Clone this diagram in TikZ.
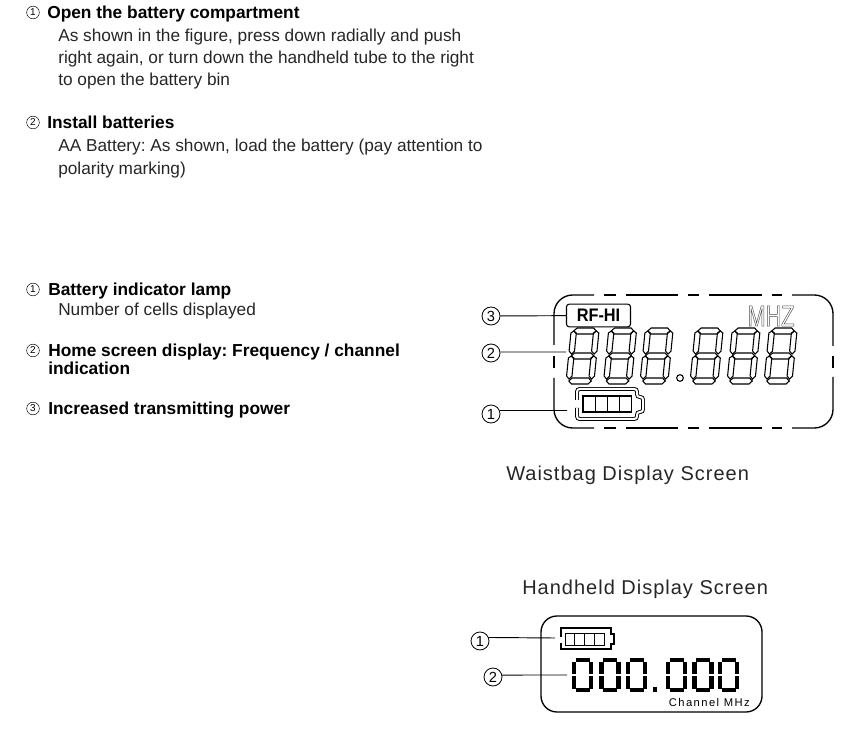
\documentclass[tikz,border=0pt]{standalone}
\usepackage{fontspec}
\setmainfont{Liberation Sans}
\frenchspacing
\tikzset{
  headtext/.style={anchor=base west, inner sep=0pt, font=\fontsize{13}{15}\selectfont\bfseries},
  bodytext/.style={anchor=base west, inner sep=0pt, font=\fontsize{12.95}{15}\selectfont, text=black!85},
  captiontext/.style={anchor=base west, inner sep=0pt, font=\fontsize{15}{17}\selectfont\addfontfeature{LetterSpace=5}, text=black!85},
  smallnum/.style={circle, draw, line width=0.35pt, inner sep=0pt, minimum size=9.5pt, font=\fontsize{7.5}{8}\selectfont},
  bignum/.style={circle, draw, line width=0.6pt, inner sep=0pt, minimum size=13.5pt, font=\fontsize{11}{12}\selectfont},
  leader/.style={line width=0.7pt},
  lcdline/.style={line width=1pt},
  segline/.style={line width=0.8pt},
  pics/lcdeight/.style={code={
    % outlined seven segments, origin at the lower left
    \begin{scope}[xslant=0.1]
      \foreach \ypos in {-3,-28,-53}
        \draw[segline] (2.5,\ypos) -- (5.5,\ypos-3) -- (22,\ypos-3) -- (25,\ypos) -- (22,\ypos+3) -- (5.5,\ypos+3) -- cycle;
      \foreach \xpos in {2.5,25}
        \foreach \ypos in {-3,-28}
          \draw[segline] (\xpos,\ypos-2) -- (\xpos+2.7,\ypos-5) -- (\xpos+2.7,\ypos-23) -- (\xpos,\ypos-25) -- (\xpos-2.7,\ypos-23) -- (\xpos-2.7,\ypos-5) -- cycle;
    \end{scope}
  }},
  pics/lcdzero/.style={code={
    % solid zero in six strokes, origin at the lower left
    \draw[line width=3.2pt] (3.5,-32) -- (17.5,-32);
    \draw[line width=3.2pt] (3.5,-2) -- (17.5,-2);
    \foreach \xpos in {2,19} {
      \draw[line width=3.2pt] (\xpos,-3.5) -- (\xpos,-16);
      \draw[line width=3.2pt] (\xpos,-18) -- (\xpos,-30.5);
    }
  }},
}
\begin{document}
\begin{tikzpicture}[x=0.75pt, y=-0.75pt]
  \useasboundingbox (0,0) rectangle (857,741);
  % first list
  \node[smallnum] (opennum) at (33,12.5) {1};
  \node[headtext] (openhead) at (47,19) {Open the battery compartment};
  \node[bodytext] (openone) at (58,42) {As shown in the figure, press down radially and push};
  \node[bodytext] (opentwo) at (58,64) {right again, or turn down the handheld tube to the right};
  \node[bodytext] (openthree) at (58,86) {to open the battery bin};
  \node[smallnum] (installnum) at (33,122.5) {2};
  \node[headtext] (installhead) at (47,129) {Install batteries};
  \node[bodytext] (installone) at (58,152) {AA Battery: As shown, load the battery (pay attention to};
  \node[bodytext] (installtwo) at (58,175) {polarity marking)};
  % second list
  \node[smallnum] (lampnum) at (33,289.5) {1};
  \node[headtext] (lamphead) at (48,296) {Battery indicator lamp};
  \node[bodytext] (lampone) at (58,316) {Number of cells displayed};
  \node[smallnum] (homenum) at (33,350.5) {2};
  \node[headtext] (homehead) at (48,357) {Home screen display: Frequency / channel};
  \node[headtext] (hometwo) at (48,374.5) {indication};
  \node[smallnum] (powernum) at (33,408.5) {3};
  \node[headtext] (powerhead) at (48,415) {Increased transmitting power};
  % waistbag frame, broken lines
  \draw[lcdline, rounded corners=14pt] (554,345) -- (554,295) -- (594,295);
  \draw[lcdline, rounded corners=14pt] (833,346) -- (833,295) -- (792,295);
  \draw[lcdline, rounded corners=14pt] (554,378) -- (554,428) -- (594,428);
  \draw[lcdline, rounded corners=14pt] (833,377) -- (833,428) -- (792,428);
  \foreach \xa/\xb in {604/616,626/678,688/699,709/762,772/782} {
    \draw[lcdline] (\xa,295) -- (\xb,295);
    \draw[lcdline] (\xa,428) -- (\xb,428);
  }
  \draw[lcdline] (554,356) -- (554,368);
  \draw[lcdline] (833,356) -- (833,368);
  % waistbag contents
  \node[draw, line width=0.8pt, rounded corners=2pt, minimum width=48pt, minimum height=17pt, inner sep=0pt] (rfhi) at (598.5,315.5) {\fontsize{13.6}{15}\selectfont\bfseries\addfontfeature{FakeStretch=0.9}RF-HI};
  \node[inner sep=0pt, text=black!70] (mhz) at (771,316) {\fontsize{22}{24}\selectfont\addfontfeature{FakeStretch=0.74}\special{pdf:code 1 Tr 0.35 w}MHZ\special{pdf:code 0 Tr}};
  \foreach \xpos in {566,603.5,640,690,727,764}
    \pic at (\xpos,384) {lcdeight};
  \node[circle, draw, segline, minimum size=5pt, inner sep=0pt] (wdot) at (680,378) {};
  \draw[line width=0.7pt, double, double distance=1.5pt, rounded corners=2pt] (577,400) -- (577,389) -- (637,389) -- (637,397) -- (643,397) -- (643,412) -- (637,412) -- (637,419) -- (577,419) -- (577,408);
  \foreach \i in {0,1,2,3}
    \draw[line width=0.9pt] ({583+12.2*\i},396) rectangle ++(12.2,16);
  % waistbag labels
  \coordinate (wendtwo) at (566,352);
  \coordinate (wendone) at (567,410.5);
  \node[bignum] (wnumthree) at (491,316) {3};
  \node[bignum] (wnumtwo) at (491,353) {2};
  \node[bignum] (wnumone) at (491,414) {1};
  \draw[leader] (wnumthree) -- (rfhi);
  \draw[leader] (wnumtwo.6) -- (wendtwo);
  \draw[leader] (wnumone.22) -- (wendone);
  \node[captiontext] (wcaption) at (506,480) {Waistbag Display Screen};
  % handheld display
  \node[captiontext] (hcaption) at (522,594) {Handheld Display Screen};
  \node[draw, lcdline, rounded corners=12pt, minimum width=165.75pt, minimum height=72pt, inner sep=0pt] (hframe) at (651.5,664) {};
  \draw[line width=1.3pt] (561,637) -- (561,628) -- (611,628) -- (611,634) -- (614,634) -- (614,644) -- (611,644) -- (611,649) -- (561,649) -- (561,643);
  \foreach \i in {0,1,2,3}
    \draw[line width=0.7pt] ({565+9.75*\i},633) rectangle ++(9.75,12);
  \foreach \xpos in {572,599.5,626,666,692.5,718}
    \pic at (\xpos,692) {lcdzero};
  \node[fill=black, minimum size=3.6pt, inner sep=0pt] (hdot) at (655,689.5) {};
  \node[anchor=base east, inner sep=0pt] (hunit) at (750,706) {\fontsize{8.4}{9}\selectfont\addfontfeature{LetterSpace=13}Channel MHz};
  % handheld labels
  \coordinate (hendone) at (555,638);
  \coordinate (hendtwo) at (567,675);
  \node[bignum] (hnumone) at (480,641) {1};
  \node[bignum] (hnumtwo) at (493,677) {2};
  \draw[leader] (hnumone.22) -- (hendone);
  \draw[leader] (hnumtwo.12) -- (hendtwo);
\end{tikzpicture}
\end{document}
